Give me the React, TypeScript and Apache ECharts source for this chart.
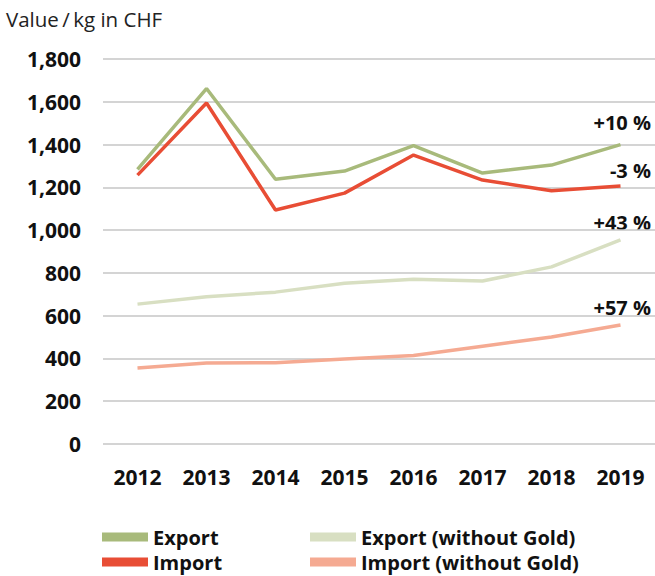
import React, { useEffect, useRef } from "react";
import * as echarts from "echarts";

const years = ["2012", "2013", "2014", "2015", "2016", "2017", "2018", "2019"];
const exportVals = [1284, 1662, 1238, 1276, 1395, 1267, 1304, 1400];
const importVals = [1257, 1594, 1094, 1173, 1351, 1234, 1184, 1206];
const exportNoGold = [654, 688, 710, 752, 770, 762, 828, 954];
const importNoGold = [355, 379, 380, 397, 414, 457, 500, 556];
const changeLabels = ["+10 %", "-3 %", "+43 %", "+57 %"];
const titleText = "Value\u2009/\u2009kg in CHF";

const FONT = "'Open Sans', Lato, sans-serif";

export default function App() {
  const ref = useRef<HTMLDivElement>(null);
  useEffect(() => {
    document.body.style.margin = "0";
    if (!ref.current) return;
    const chart = echarts.init(ref.current, null, { renderer: "svg" });
    const colors = ["#a8ba7b", "#e84d35", "#d8dfc2", "#f5aa92"];
    const names = ["Export", "Import", "Export (without Gold)", "Import (without Gold)"];
    const datas = [exportVals, importVals, exportNoGold, importNoGold];
    const labelY = [122, 170, 222, 307];
    const legendText = { fontFamily: FONT, fontSize: 20, fontWeight: "bold", color: "#111" };
    chart.setOption({
      animation: false,
      grid: { left: 103, right: -4, top: 59, bottom: 132, containLabel: false },
      xAxis: {
        type: "category",
        data: years,
        boundaryGap: true,
        axisLine: { show: false },
        axisTick: { show: false },
        axisLabel: { fontFamily: FONT, fontSize: 21, fontWeight: "bold", color: "#111", margin: 22 },
      },
      yAxis: {
        type: "value",
        min: 0,
        max: 1800,
        interval: 200,
        axisLine: { show: false },
        axisTick: { show: false },
        splitLine: { lineStyle: { color: "#c6c6c6", width: 1.5 } },
        axisLabel: {
          fontFamily: FONT,
          fontSize: 21,
          fontWeight: "bold",
          color: "#111",
          margin: 22,
          formatter: (v: number) => v.toLocaleString("en-US"),
        },
      },
      legend: [
        {
          orient: "vertical",
          left: 102,
          top: 527,
          padding: 0,
          data: [names[0], names[1]],
          icon: "rect",
          itemWidth: 46,
          itemHeight: 9,
          itemGap: 5,
          textStyle: legendText,
        },
        {
          orient: "vertical",
          left: 310,
          top: 527,
          padding: 0,
          data: [names[2], names[3]],
          icon: "rect",
          itemWidth: 46,
          itemHeight: 9,
          itemGap: 5,
          textStyle: legendText,
        },
      ],
      series: names.map((n, i) => ({
        name: n,
        type: "line",
        data: datas[i],
        showSymbol: false,
        color: colors[i],
        lineStyle: { width: 3.5, color: colors[i] },
        itemStyle: { color: colors[i] },
        z: 10 - i,
      })),
      graphic: [
        {
          type: "text",
          x: 6,
          y: 19,
          style: {
            text: titleText,
            fontFamily: FONT,
            fontSize: 20.5,
            fontWeight: "normal",
            fill: "#222",
            align: "left",
            verticalAlign: "middle",
          },
        },
        ...changeLabels.map((t, i) => ({
          type: "text",
          x: 651,
          y: labelY[i],
          style: {
            text: t,
            fontFamily: FONT,
            fontSize: 20,
            fontWeight: "bold",
            fill: "#111",
            align: "right",
            verticalAlign: "middle",
          },
        })),
      ],
    });
    return () => chart.dispose();
  }, []);
  return <div ref={ref} style={{ width: 655, height: 576 }} />;
}
